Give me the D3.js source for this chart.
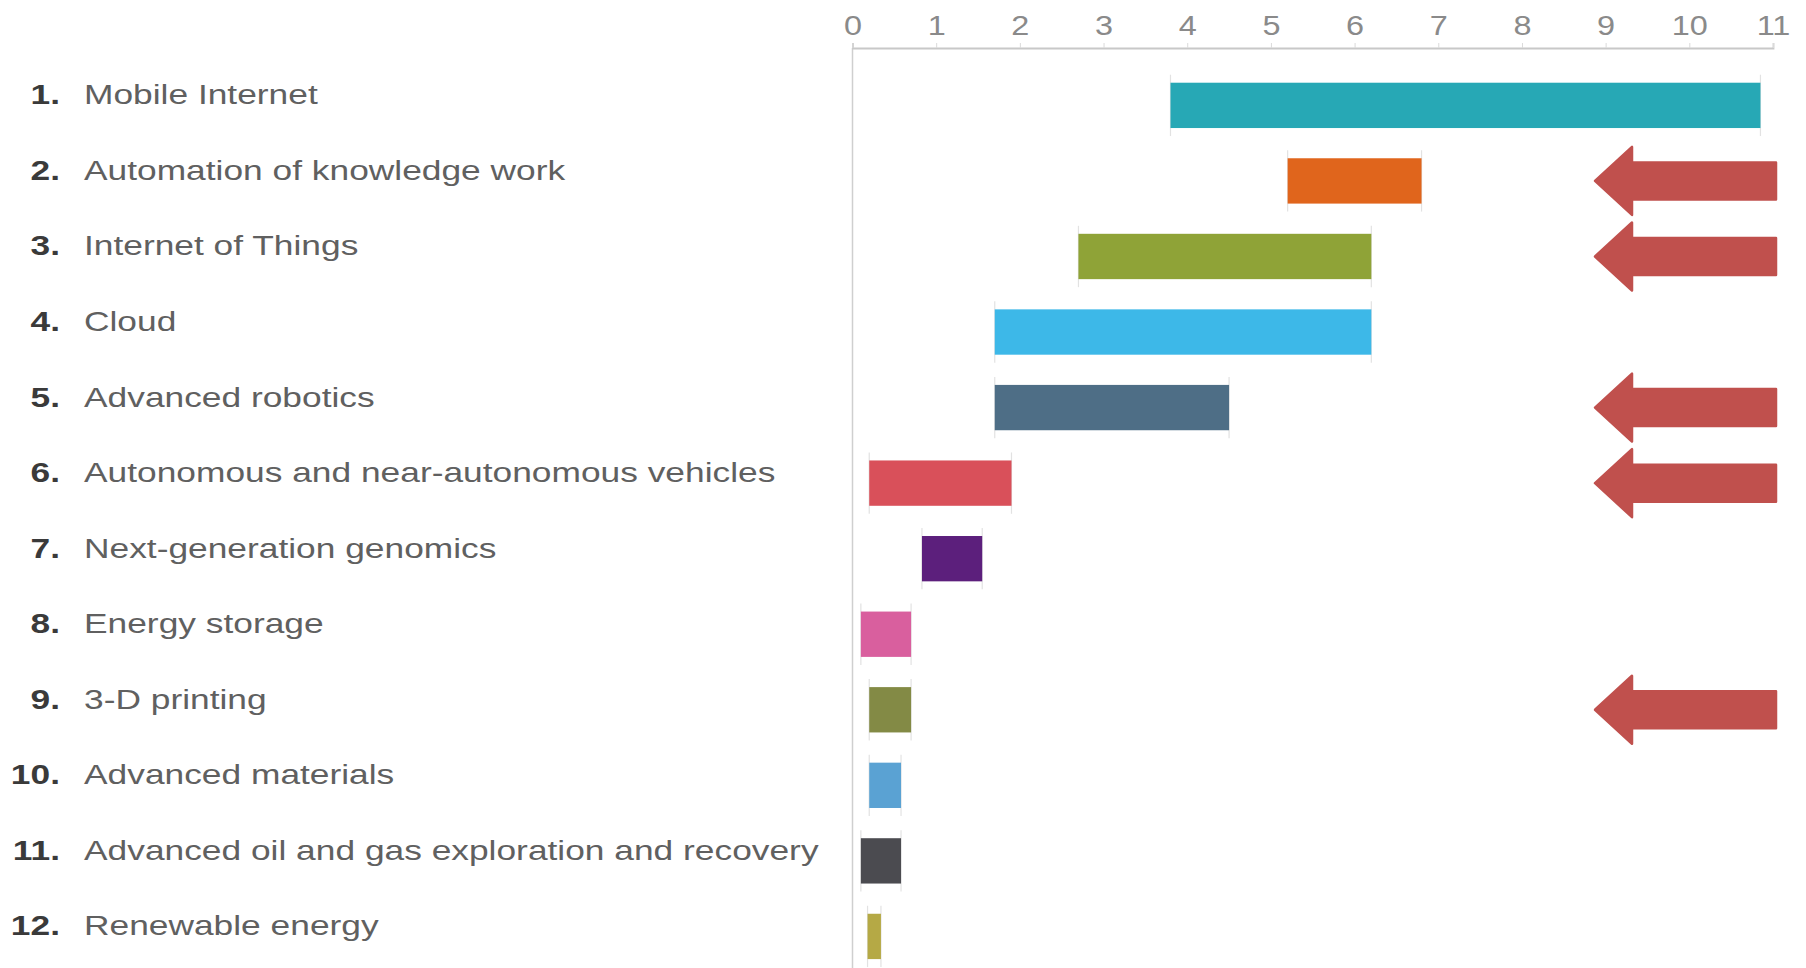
<!DOCTYPE html>
<html>
<head>
<meta charset="utf-8">
<script src="https://cdn.jsdelivr.net/npm/d3@7"></script>
<style>
  html, body { margin: 0; padding: 0; background: #ffffff; }
  svg { display: block; }
</style>
</head>
<body>
<svg id="chart" width="1806" height="968"></svg>
<script>
// ---- data ----
const ranks = ["1.", "2.", "3.", "4.", "5.", "6.", "7.", "8.", "9.", "10.", "11.", "12."];
const categories = [
  "Mobile Internet",
  "Automation of knowledge work",
  "Internet of Things",
  "Cloud",
  "Advanced robotics",
  "Autonomous and near-autonomous vehicles",
  "Next-generation genomics",
  "Energy storage",
  "3-D printing",
  "Advanced materials",
  "Advanced oil and gas exploration and recovery",
  "Renewable energy"
];
const lowValues  = [3.8, 5.2, 2.7, 1.7, 1.7, 0.2, 0.83, 0.1, 0.2, 0.2, 0.1, 0.18];
const highValues = [10.85, 6.8, 6.2, 6.2, 4.5, 1.9, 1.55, 0.7, 0.7, 0.58, 0.58, 0.34];
const barColors = ["#27a8b5", "#e0651c", "#8fa337", "#3db8e8", "#4e6e86", "#d9505a",
                   "#5c1f7c", "#d95f9e", "#838a45", "#5aa2d3", "#4b4b50", "#b5a945"];
const tickValues = [0, 1, 2, 3, 4, 5, 6, 7, 8, 9, 10, 11];
const arrowCategories = ["Automation of knowledge work", "Internet of Things",
                         "Advanced robotics", "Autonomous and near-autonomous vehicles", "3-D printing"];

// ---- layout ----
const svg = d3.select("#chart");
const STRETCH = 1.2;
const LABEL_STRETCH = 1.24;
const FONT = "'Liberation Sans', Arial, Helvetica, sans-serif";

const x = d3.scaleLinear().domain([0, 11]).range([852.5, 1773]);
const y = d3.scaleBand().domain(categories).range([67.6, 974.2])
  .paddingInner(0.4).paddingOuter(0.2);

const axisY = 48;

// vertical baseline (y axis line)
svg.append("line")
  .attr("x1", x(0)).attr("x2", x(0))
  .attr("y1", axisY).attr("y2", 968)
  .attr("stroke", "#cfcfcf").attr("stroke-width", 1.5);

// top axis
const axisG = svg.append("g")
  .attr("transform", `translate(0,${axisY})`)
  .call(d3.axisTop(x).tickValues(tickValues).tickFormat(d3.format("d"))
    .tickSize(5).tickPadding(8));
axisG.select(".domain").attr("stroke", "#c8c8c8").attr("stroke-width", 1.8);
axisG.selectAll(".tick line").attr("stroke", "#dadada").attr("stroke-width", 1);
axisG.selectAll(".tick text")
  .attr("fill", "#8a8a8a")
  .style("font-family", FONT)
  .style("font-size", "27px")
  .attr("transform", `scale(${STRETCH},1)`);

const rows = categories.map((c, i) => ({
  cat: c, rank: ranks[i], lo: lowValues[i], hi: highValues[i], color: barColors[i]
}));

// faint whisker marks at bar ends
const whisk = svg.append("g");
rows.forEach(d => {
  [d.lo, d.hi].forEach(v => {
    whisk.append("line")
      .attr("x1", x(v)).attr("x2", x(v))
      .attr("y1", y(d.cat) - 8).attr("y2", y(d.cat) + y.bandwidth() + 8)
      .attr("stroke", "#e2e2e2").attr("stroke-width", 1.2);
  });
});

// bars
svg.append("g").selectAll("rect")
  .data(rows)
  .join("rect")
  .attr("x", d => x(d.lo))
  .attr("width", d => x(d.hi) - x(d.lo))
  .attr("y", d => y(d.cat))
  .attr("height", y.bandwidth())
  .attr("fill", d => d.color);

// labels
const labelG = svg.append("g");
rows.forEach(d => {
  const cy = y(d.cat) + y.bandwidth() / 2 - 1;
  labelG.append("text")
    .attr("transform", `translate(60,${cy}) scale(${LABEL_STRETCH},1)`)
    .attr("text-anchor", "end")
    .style("font-family", FONT)
    .style("font-size", "28.5px")
    .style("font-weight", "bold")
    .attr("fill", "#3a3a3a")
    .text(d.rank);
  labelG.append("text")
    .attr("transform", `translate(84,${cy}) scale(${LABEL_STRETCH},1)`)
    .attr("text-anchor", "start")
    .style("font-family", FONT)
    .style("font-size", "28.5px")
    .attr("fill", "#606060")
    .text(d.cat);
});

// annotation arrows
const arrowPath = (c) => {
  const tip = 1595, base = 1632, end = 1776, hh = 34, bh = 18.5;
  return `M${tip},${c} L${base},${c - hh} L${base},${c - bh} L${end},${c - bh} ` +
         `L${end},${c + bh} L${base},${c + bh} L${base},${c + hh} Z`;
};
svg.append("g").selectAll("path")
  .data(arrowCategories)
  .join("path")
  .attr("d", c => arrowPath(y(c) + y.bandwidth() / 2))
  .attr("fill", "#c0504d")
  .attr("stroke", "#c0504d")
  .attr("stroke-width", 2.5)
  .attr("stroke-linejoin", "round");
</script>
</body>
</html>
